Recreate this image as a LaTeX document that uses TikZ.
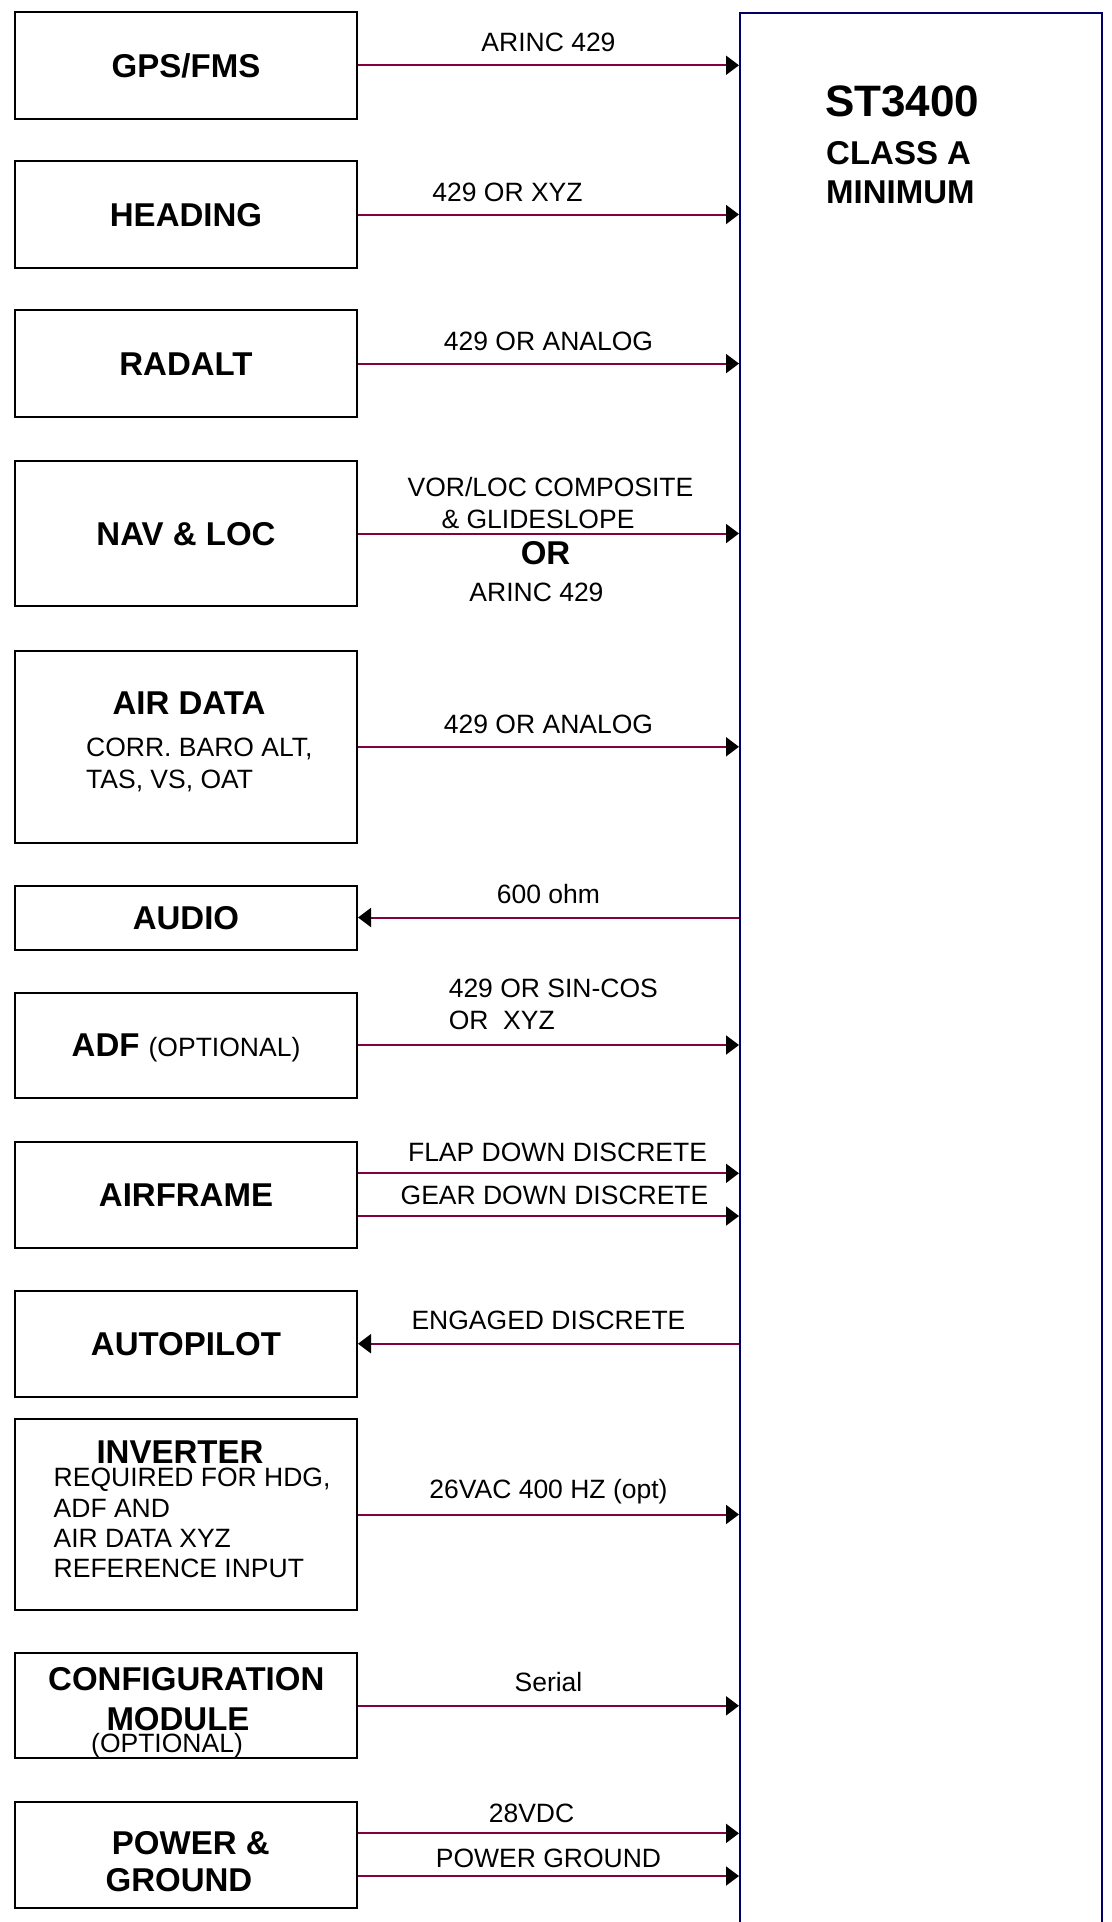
\documentclass[tikz,border=0pt]{standalone}
\usepackage{fontspec}
\setmainfont{Liberation Sans}
\usetikzlibrary{arrows.meta, positioning}
\definecolor{wire}{HTML}{800040}
\definecolor{unitline}{HTML}{000066}
\newcommand\ttlfont{\fontsize{33}{38}\selectfont\bfseries}
\newcommand\lblfont{\fontsize{26.5}{31}\selectfont}
\tikzset{
  srcbox/.style = {draw=black, line width=2pt, minimum width=342, inner sep=0pt,
                   font=\ttlfont, text height=23.6pt, text depth=0pt},
  unitbox/.style = {draw=unitline, line width=1.5pt, inner sep=0pt},
  sig/.style  = {draw=wire, line width=2pt, -{Triangle[length=13pt, width=19pt, black]}},
  lbl/.style  = {font=\lblfont, inner sep=0pt, anchor=base},
  ttl/.style  = {font=\ttlfont, inner sep=0pt, anchor=base},
  note/.style = {font=\lblfont, inner sep=0pt, anchor=base west}
}

\begin{document}
\begin{tikzpicture}[x=1pt, y=-1pt]
  \useasboundingbox (0,0) rectangle (1111,1922);

  % the ST3400 unit
  \node[unitbox, anchor=north west, minimum width=362, minimum height=1940] (st) at (739,12) {};
  \node[font=\fontsize{44}{50}\selectfont\bfseries, inner sep=0pt, anchor=base west] (stname) at (825,116.7) {ST3400};
  \node[ttl, anchor=base west] (stclass) at (826,164) {CLASS A};
  \node[ttl, anchor=base west] (stmin) at (826,203.3) {MINIMUM};

  % source boxes
  \node[srcbox, minimum height=107] (gps) at (186,65.3) {GPS/FMS};
  \node[srcbox, minimum height=107] (head) at (186,214.5) {HEADING};
  \node[srcbox, minimum height=107] (radalt) at (186,363.6) {RADALT};
  \node[srcbox, minimum height=145] (nav) at (186,533.5) {NAV \& LOC};
  \node[srcbox, minimum height=192] (air) at (186,746.8) {};
  \node[ttl] (airttl) at (189,714) {AIR DATA};
  \node[note] (airnote1) at (86,756.7) {CORR. BARO ALT,};
  \node[note] (airnote2) at (86,788.3) {TAS, VS, OAT};
  \node[srcbox, minimum height=64] (audio) at (186,917.5) {AUDIO};
  \node[srcbox, minimum height=105] (adf) at (186,1045) {ADF {\lblfont\mdseries (OPTIONAL)}};
  \node[srcbox, minimum height=106] (frame) at (186,1194.7) {AIRFRAME};
  \node[srcbox, minimum height=106] (ap) at (186,1343.7) {AUTOPILOT};
  \node[srcbox, minimum height=191] (inv) at (186,1514.5) {};
  \node[ttl] (invttl) at (180,1463.3) {INVERTER};
  \node[note] (invnote1) at (53.5,1486.7) {REQUIRED FOR HDG,};
  \node[note] (invnote2) at (53.5,1517.1) {ADF AND};
  \node[note] (invnote3) at (53.5,1547.5) {AIR DATA XYZ};
  \node[note] (invnote4) at (53.5,1577.9) {REFERENCE INPUT};
  \node[srcbox, minimum height=105] (cfg) at (186,1705.8) {};
  \node[ttl] (cfgttl1) at (186.3,1690) {CONFIGURATION};
  \node[ttl] (cfgttl2) at (178,1730.7) {MODULE};
  \node[lbl] (cfgopt) at (167,1752) {(OPTIONAL)};
  \node[srcbox, minimum height=106] (pwr) at (186,1855.3) {};
  \node[ttl] (pwrttl1) at (190.8,1854) {POWER \&};
  \node[ttl] (pwrttl2) at (179,1891.7) {GROUND};

  % signal lines
  \draw[sig] (gps.east) -- (gps.east -| st.west)
       node[lbl, midway, yshift=13.5pt] (gpslbl) {ARINC 429};
  \draw[sig] (head.east) -- (head.east -| st.west)
       node[lbl, midway, xshift=-41pt, yshift=13.5pt] (headlbl) {429 OR XYZ};
  \draw[sig] (radalt.east) -- (radalt.east -| st.west)
       node[lbl, midway, yshift=13.5pt] (radaltlbl) {429 OR ANALOG};
  \draw[sig] (nav.east) -- (nav.east -| st.west)
       node[lbl, midway, xshift=2pt, yshift=37.3pt] (navlbl1) {VOR/LOC COMPOSITE}
       node[lbl, midway, xshift=-10.5pt, yshift=4.7pt] (navlbl2) {\& GLIDESLOPE}
       node[ttl, midway, xshift=-3pt, yshift=-31pt] (navor) {OR}
       node[lbl, midway, xshift=-12pt, yshift=-67.7pt] (navlbl3) {ARINC 429};
  \draw[sig] (air.east) -- (air.east -| st.west)
       node[lbl, midway, yshift=13.5pt] (airlbl) {429 OR ANALOG};
  \draw[sig] (st.west |- audio.east) -- (audio.east)
       node[lbl, midway, yshift=14pt] (audiolbl) {600 ohm};
  \draw[sig] (adf.east) -- (adf.east -| st.west)
       node[note, pos=0.2356, yshift=47.4pt] (adflbl1) {429 OR SIN-COS}
       node[note, pos=0.2356, yshift=15.7pt] (adflbl2) {OR\ \ XYZ};
  \coordinate (flap) at ([yshift=21.4pt]frame.east);
  \coordinate (gear) at ([yshift=-21.3pt]frame.east);
  \draw[sig] (flap) -- (flap -| st.west)
       node[lbl, midway, xshift=9pt, yshift=11.6pt] (flaplbl) {FLAP DOWN DISCRETE};
  \draw[sig] (gear) -- (gear -| st.west)
       node[lbl, midway, xshift=6pt, yshift=12pt] (gearlbl) {GEAR DOWN DISCRETE};
  \draw[sig] (st.west |- ap.east) -- (ap.east)
       node[lbl, midway, yshift=14pt] (aplbl) {ENGAGED DISCRETE};
  \draw[sig] (inv.east) -- (inv.east -| st.west)
       node[lbl, midway, yshift=16.5pt] (invlbl) {26VAC 400 HZ (opt)};
  \draw[sig] (cfg.east) -- (cfg.east -| st.west)
       node[lbl, midway, yshift=14pt] (cfglbl) {Serial};
  \coordinate (dcin) at ([yshift=22pt]pwr.east);
  \coordinate (gndin) at ([yshift=-20.7pt]pwr.east);
  \draw[sig] (dcin) -- (dcin -| st.west)
       node[lbl, midway, xshift=-17pt, yshift=10.8pt] (dclbl) {28VDC};
  \draw[sig] (gndin) -- (gndin -| st.west)
       node[lbl, midway, yshift=8.6pt] (gndlbl) {POWER GROUND};
\end{tikzpicture}
\end{document}
